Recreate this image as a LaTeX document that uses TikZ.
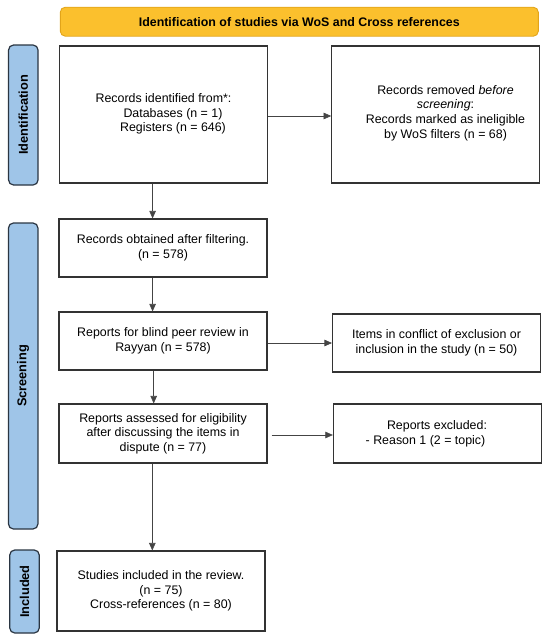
\documentclass[tikz,border=0pt]{standalone}
\usepackage{fontspec}
\setmainfont{Liberation Sans}
\usetikzlibrary{arrows.meta}
\definecolor{banfill}{HTML}{FBC02D}
\definecolor{bandraw}{HTML}{E2A41A}
\definecolor{sidefill}{HTML}{9FC5E8}
\definecolor{sidedraw}{HTML}{2A3542}
\definecolor{boxdraw}{HTML}{333333}
\definecolor{arrcol}{HTML}{444444}
\tikzset{
  banner/.style={draw=bandraw, line width=0.9pt, fill=banfill, rounded corners=5pt,
    minimum width=478pt, minimum height=29pt, inner sep=0pt,
    font=\fontsize{12.4}{14}\selectfont\bfseries},
  sidebar/.style={draw=sidedraw, line width=1.2pt, fill=sidefill, rounded corners=5pt,
    minimum width=29.5pt, inner sep=0pt},
  sidetext/.style={rotate=90, inner sep=0pt, font=\fontsize{12.8}{14}\selectfont\bfseries},
  flowbox/.style={draw=boxdraw, line width=1.1pt, fill=white, minimum width=208pt,
    inner sep=0pt, align=center, font=\fontsize{12.4}{14.7}\selectfont},
  flowtext/.style={inner sep=0pt, align=center, font=\fontsize{12.4}{14.7}\selectfont},
  flowarrow/.style={draw=arrcol, line width=0.6pt, -{Triangle[length=7.5pt,width=6.5pt]}}
}
\begin{document}
\begin{tikzpicture}[x=1pt,y=-1pt]
\useasboundingbox (0,0) rectangle (550,640);
% banner
\node[banner] (ban) at (299.3,21.7) {Identification of studies via WoS and Cross references};
% side bars
\node[sidebar, minimum height=140pt] (sid) at (23.3,115) {};
\node[sidetext] (sidt) at (23.3,115) {Identification};
\node[sidebar, minimum height=306pt] (sscr) at (23.2,376) {};
\node[sidetext] (sscrt) at (23.2,376) {Screening};
\node[sidebar, minimum height=83pt] (sinc) at (24.5,591.5) {};
\node[sidetext] (sinct) at (24.5,591.5) {Included};
% boxes
\node[flowbox, minimum height=137pt] (b1) at (163.5,114.5) {};
\node[flowtext] (t1) at (163.5,114) {Records identified from*:\\ \hspace*{19pt}Databases (n = 1)\\ \hspace*{19pt}Registers (n = 646)};
\node[flowbox, minimum height=137pt] (b2) at (435.7,114.5) {};
\node[flowtext] (t2) at (445.5,113) {Records removed \textit{before}\\ \textit{screening}:\\ Records marked as ineligible\\ by WoS filters (n = 68)};
\node[flowbox, minimum height=58pt] (b3) at (163,248) {Records obtained after filtering.\\ (n = 578)};
\node[flowbox, minimum height=58pt] (b4) at (163,341) {Reports for blind peer review in\\ Rayyan (n = 578)};
\node[flowbox, minimum height=58pt] (b5) at (436.5,343) {Items in conflict of exclusion or\\ inclusion in the study (n = 50)};
\node[flowbox, minimum height=59pt] (b6) at (163,433.5) {Reports assessed for eligibility\\ after discussing the items in\\ dispute (n = 77)};
\node[flowbox, minimum height=59pt] (b7) at (437.4,433.5) {};
\node[flowtext] (t7) at (437,434) {Reports excluded:\\ - Reason 1 (2 = topic)\hspace*{23pt}};
\node[flowbox, minimum height=80pt] (b8) at (161,591) {Studies included in the review.\\ (n = 75)\\ Cross-references (n = 80)};
% arrows
\draw[flowarrow] (b1.south -| 152.6,0) -- (b3.north -| 152.6,0);
\draw[flowarrow] (b3.south -| 152.6,0) -- (b4.north -| 152.6,0);
\draw[flowarrow] (b4.south -| 153.7,0) -- (b6.north -| 153.7,0);
\draw[flowarrow] (b6.south -| 152.3,0) -- (b8.north -| 152.3,0);
\draw[flowarrow] (b1.east |- 0,116) -- (b2.west |- 0,116);
\draw[flowarrow] (b4.east |- 0,343) -- (b5.west |- 0,343);
\draw[flowarrow] ([xshift=4pt]b6.east |- 0,435) -- (b7.west |- 0,435);
\end{tikzpicture}
\end{document}
